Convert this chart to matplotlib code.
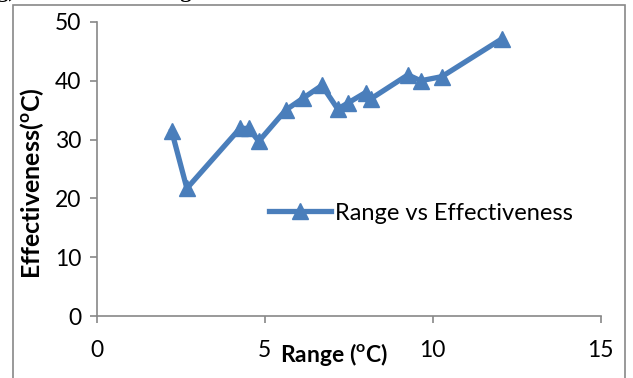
import matplotlib
matplotlib.use("Agg")
import matplotlib.pyplot as plt
from matplotlib.patches import Rectangle

# data
range_c = [2.23, 2.68, 4.26, 4.52, 4.82, 5.62, 6.13, 6.70, 7.17, 7.47,
           8.00, 8.15, 9.26, 9.64, 10.27, 12.05]
effectiveness = [31.4, 21.7, 31.9, 31.9, 29.7, 35.0, 37.0, 39.2, 35.2, 36.2,
                 38.0, 36.9, 41.0, 40.0, 40.7, 47.1]
x_ticks = [0, 5, 10, 15]
y_ticks = [0, 10, 20, 30, 40, 50]

plt.rcParams['font.family'] = ['Lato', 'DejaVu Sans']

fig = plt.figure(figsize=(6.33, 3.78), dpi=100)
ax = fig.add_axes([0.153, 0.164, 0.796, 0.778])

ax.plot(range_c, effectiveness, color='#4a7ebb', lw=3.8, marker='^',
        markersize=12, label='Range vs Effectiveness')

ax.set_xlim(0, 15)
ax.set_ylim(0, 50)
ax.set_xticks(x_ticks)
ax.set_yticks(y_ticks)
ax.tick_params(labelsize=16.5, colors='#888888', labelcolor='black',
               direction='out', length=5, width=1.2)
ax.tick_params(axis='x', pad=12)
ax.tick_params(axis='y', pad=6)
for s in ['top', 'right']:
    ax.spines[s].set_visible(False)
for s in ['left', 'bottom']:
    ax.spines[s].set_color('#888888')
    ax.spines[s].set_linewidth(1.2)

ax.set_xlabel('Range ($^{\\mathregular{o}}$C)', fontsize=16.5, fontweight='bold')
ax.xaxis.set_label_coords(0.47, -0.085)
ax.set_ylabel('Effectiveness($^{\\mathregular{o}}$C)', fontsize=18, fontweight='bold')
ax.yaxis.set_label_coords(-0.1, 0.45)

leg = ax.legend(loc='center left', bbox_to_anchor=(0.3, 0.35), frameon=False,
                fontsize=17, handlelength=2.6, handletextpad=0.2)

# caption of the figure, cut off at the top of the image
fig.text(-0.005, 1.0 + 3 / 378, 'g) Variation of Range vs effectiveness',
         family='Liberation Serif', fontweight='bold', fontsize=16,
         va='baseline', ha='left')

# outer frame
fig.patches.append(Rectangle((13 / 633, -0.05), 612 / 633, 1.05 - 5 / 378,
                             transform=fig.transFigure, fill=False,
                             edgecolor='#888888', lw=1.2))

fig.savefig('out.png', dpi=100)
